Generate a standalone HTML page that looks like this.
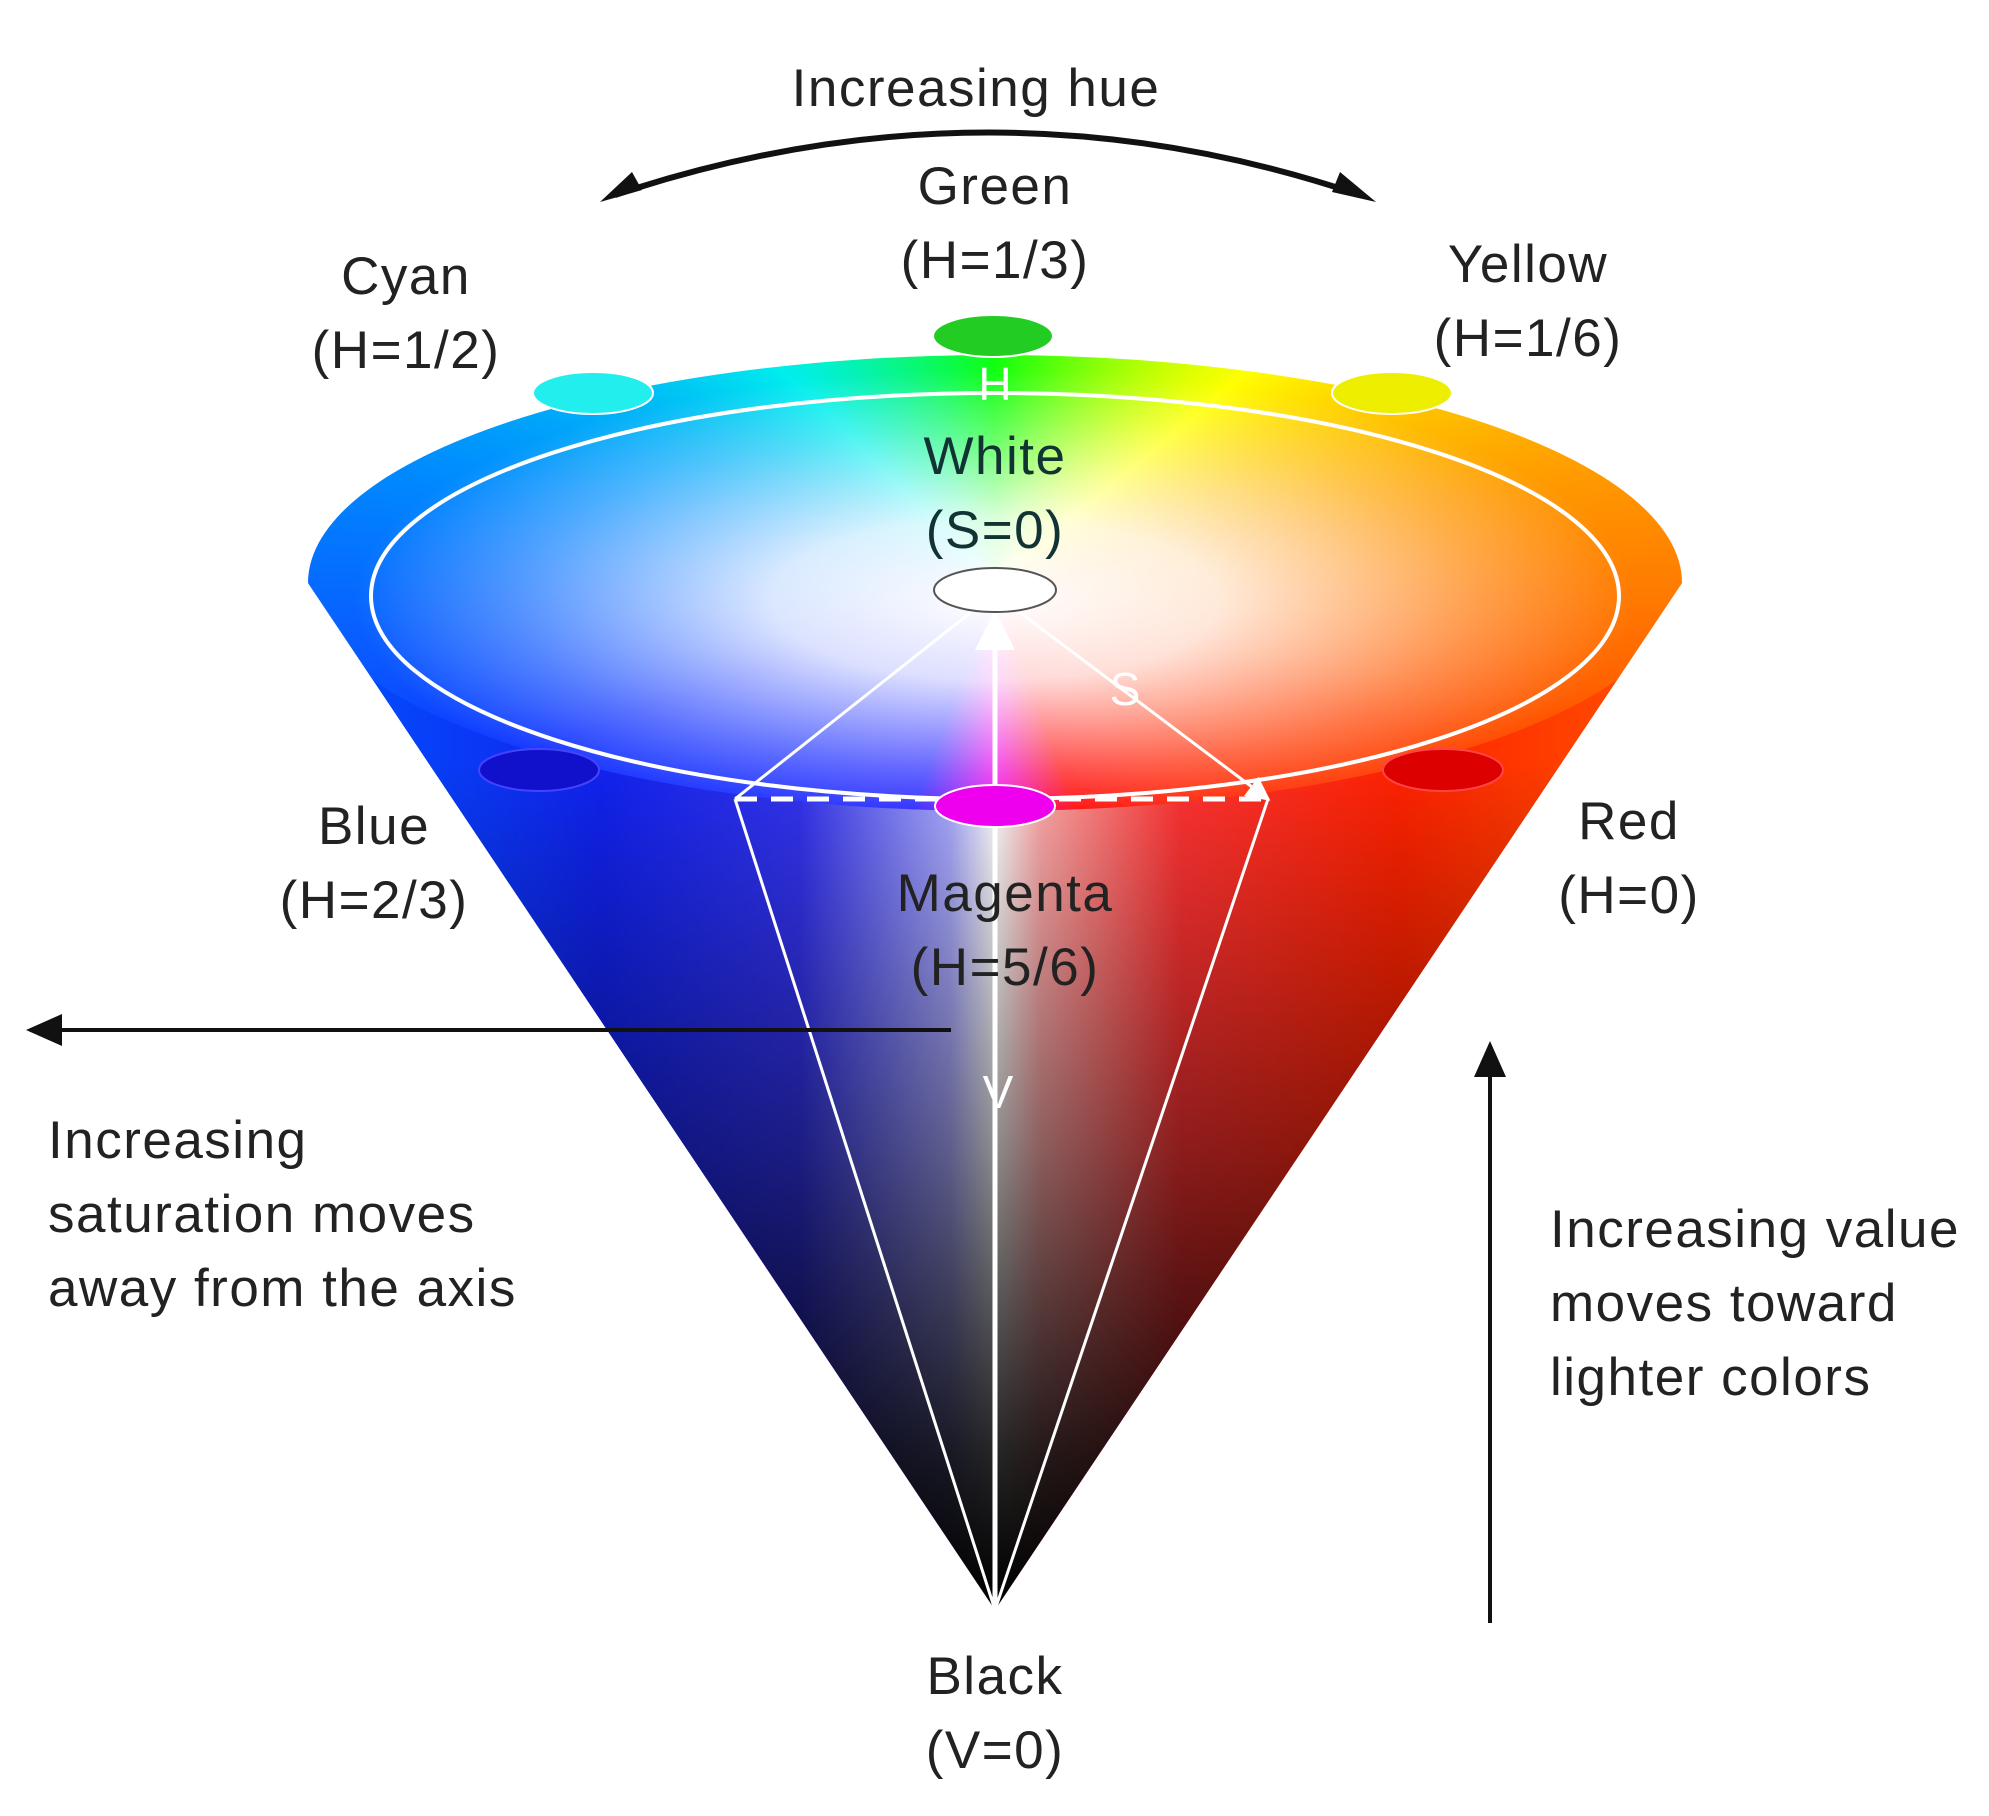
<!DOCTYPE html>
<html><head><meta charset="utf-8"><style>
html,body{margin:0;padding:0;background:#fff;}
#c{position:relative;width:1989px;height:1816px;overflow:hidden;font-family:"Liberation Sans","DejaVu Sans",sans-serif;}
.l{position:absolute;inset:0;}
.cone{clip-path:path('M308,583 A687,228 0 0,1 1682,583 L995,1610 Z');}
.hue{background:conic-gradient(from 0deg at 995px 583px,#1f1 0deg,#ff0 50deg,#f90 80deg,#f40 110deg,#f00 160deg,#e0e 180deg,#22f 200deg,#13f 250deg,#08f 280deg,#0ee 315deg,#1f1 360deg);}
.top{background:radial-gradient(ellipse 640px 230px at 995px 600px,rgba(255,255,255,1) 0%,rgba(255,255,255,.85) 35%,rgba(255,255,255,.3) 75%,rgba(255,255,255,0) 100%);
clip-path:path('M308,583 A687,228 0 0,1 1682,583 A687,228 0 0,1 308,583 Z');}
.body{background:linear-gradient(to bottom,rgba(0,0,0,0) 760px,rgba(0,0,0,.45) 1150px,rgba(0,0,0,.85) 1450px,rgba(0,0,0,1) 1600px),
linear-gradient(to right,#05f 300px,#12e 600px,#33e 800px,#aaf 950px,#fff 995px,#faa 1040px,#f33 1180px,#f20 1400px,#f50 1690px);
clip-path:path('M308,583 A687,228 0 0,0 1682,583 L995,1610 Z');}
.t{position:absolute;font-size:53px;letter-spacing:1.5px;color:#222;text-align:center;line-height:74px;white-space:nowrap;transform:translateX(-50%);}
.tl{position:absolute;font-size:53px;letter-spacing:1.5px;color:#222;line-height:74px;white-space:nowrap;}
</style></head><body><div id="c">
<div class="l cone">
<div class="l hue"></div>
<div class="l top"></div>
<div class="l body"></div>
</div>
<svg class="l" width="1989" height="1816" viewBox="0 0 1989 1816">
<defs>
<marker id="ah" markerWidth="10" markerHeight="10" refX="8" refY="5" orient="auto"><path d="M0,1 L9,5 L0,9 Z" fill="#111"/></marker>
<marker id="wh" markerWidth="8" markerHeight="8" refX="7" refY="4" orient="auto"><path d="M0,0 L8,4 L0,8 Z" fill="#fff"/></marker>
</defs>
<ellipse cx="995" cy="596" rx="624" ry="203" fill="none" stroke="#fff" stroke-width="4"/>
<line x1="995" y1="1610" x2="735" y2="799" stroke="#fff" stroke-width="3"/>
<line x1="995" y1="1610" x2="1268" y2="799" stroke="#fff" stroke-width="3"/>
<line x1="995" y1="1610" x2="995" y2="615" stroke="#fff" stroke-width="5" marker-end="url(#wh)"/>
<line x1="980" y1="605" x2="735" y2="799" stroke="#fff" stroke-width="3"/>
<line x1="1010" y1="605" x2="1268" y2="799" stroke="#fff" stroke-width="3" marker-end="url(#wh)"/>
<line x1="735" y1="799" x2="1268" y2="799" stroke="#fff" stroke-width="5" stroke-dasharray="22,14"/>
<ellipse cx="993" cy="336" rx="60" ry="21" fill="#2c2" stroke="#fff" stroke-width="2"/>
<ellipse cx="593" cy="393" rx="60" ry="21" fill="#2ee" stroke="#fff" stroke-width="2"/>
<ellipse cx="1392" cy="393" rx="60" ry="21" fill="#ee0" stroke="#fff" stroke-width="2"/>
<ellipse cx="995" cy="590" rx="61" ry="22" fill="#fff" stroke="#555" stroke-width="2"/>
<ellipse cx="539" cy="770" rx="60" ry="21" fill="#11c" stroke="#44f" stroke-width="2"/>
<ellipse cx="1443" cy="770" rx="60" ry="21" fill="#d00" stroke="#f44" stroke-width="2"/>
<ellipse cx="995" cy="806" rx="60" ry="21" fill="#e0e" stroke="#fff" stroke-width="2"/>
<text x="995" y="400" font-family="Liberation Sans,sans-serif" font-size="46" fill="#fff" text-anchor="middle">H</text>
<text x="1125" y="705" font-family="Liberation Sans,sans-serif" font-size="46" fill="#fff" text-anchor="middle">S</text>
<text x="998" y="1108" font-family="Liberation Sans,sans-serif" font-size="46" fill="#fff" text-anchor="middle">V</text>
<path d="M615,195 Q990,70 1360,195" fill="none" stroke="#111" stroke-width="6"/>
<path d="M600,202 L632,172 L642,190 Z" fill="#111"/>
<path d="M1376,202 L1340,172 L1332,192 Z" fill="#111"/>
<line x1="951" y1="1030" x2="30" y2="1030" stroke="#111" stroke-width="4" marker-end="url(#ah)"/>
<line x1="1490" y1="1623" x2="1490" y2="1045" stroke="#111" stroke-width="4" marker-end="url(#ah)"/>
</svg>
<div class="t" style="left:976px;top:52px">Increasing hue</div>
<div class="t" style="left:995px;top:150px">Green<br>(H=1/3)</div>
<div class="t" style="left:406px;top:240px">Cyan<br>(H=1/2)</div>
<div class="t" style="left:1528px;top:228px">Yellow<br>(H=1/6)</div>
<div class="t" style="left:995px;top:420px;color:#133">White<br>(S=0)</div>
<div class="t" style="left:374px;top:790px">Blue<br>(H=2/3)</div>
<div class="t" style="left:1629px;top:785px">Red<br>(H=0)</div>
<div class="t" style="left:1005px;top:857px">Magenta<br>(H=5/6)</div>
<div class="t" style="left:995px;top:1640px">Black<br>(V=0)</div>
<div class="tl" style="left:48px;top:1104px">Increasing<br>saturation moves<br>away from the axis</div>
<div class="tl" style="left:1550px;top:1193px">Increasing value<br>moves toward<br>lighter colors</div>
</div></body></html>
